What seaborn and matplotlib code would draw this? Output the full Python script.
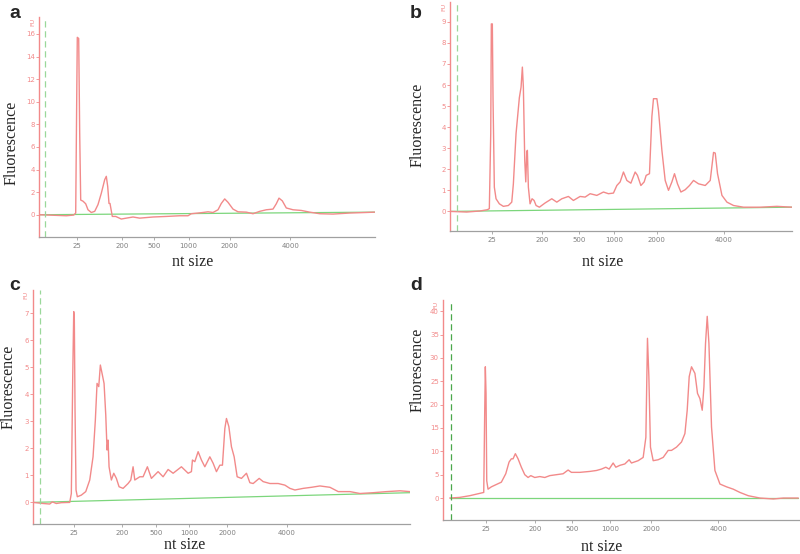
import numpy as np
import pandas as pd
import matplotlib
matplotlib.use("Agg")
import matplotlib.pyplot as plt
import seaborn as sns

sns.set_style("white")

# ---------------- data (migration position, arbitrary units; fluorescence FU) ----------------
size_labels = ["25", "200", "500", "1000", "2000", "4000"]

# panel a
pos_a = [0.7, 27.3, 34.7, 36.7, 37.7, 38.3, 39.7, 40.7, 41.7, 44, 46.7, 49, 52.3, 55.7, 59, 62.3,
         65.7, 67.3, 68.7, 70, 71, 72, 73.3, 76.7, 82.3, 87.3, 94, 100.7, 114, 127.3, 140.7, 149,
         152.3, 159, 164, 169, 174, 179, 182.3, 185.7, 189, 194, 199, 207.3, 214, 220.7, 227.3,
         234, 237.3, 240, 243.3, 247.3, 254, 262.3, 270.7, 280.7, 294, 310.7, 327.3, 335.7]
fluo_a = [0, -0.09, -0.03, 0.15, 10.1, 15.7, 15.6, 7.2, 1.3, 1.2, 0.97, 0.44, 0.2, 0.3, 0.9, 1.9,
          3.1, 3.4, 2.5, 1.0, 1.0, 0.5, -0.15, -0.15, -0.38, -0.3, -0.2, -0.3, -0.2, -0.15, -0.09, -0.09,
          0.09, 0.15, 0.2, 0.26, 0.2, 0.44, 1.0, 1.4, 1.1, 0.5, 0.26, 0.23, 0.09, 0.3, 0.44,
          0.5, 0.97, 1.47, 1.23, 0.6, 0.44, 0.38, 0.23, 0.09, 0.06, 0.15, 0.2, 0.23]
base_pos_a = [0.7, 335.7]
base_a = [0.0, 0.23]
ticks_a = [38.3, 83.3, 115, 149.7, 190.7, 251.3]
yticks_a = [0, 2, 4, 6, 8, 10, 12, 14, 16]

# panel b
pos_b = [0, 16.7, 30, 37.3, 39.3, 40.7, 41.3, 42.3, 43, 44.3, 46, 49.3, 53.3, 58.3, 61.7, 63.3,
         66, 69.3, 71, 72.3, 73.3, 74.7, 75.7, 76.7, 77.3, 78.3, 80, 82, 84, 86, 89.3, 95, 101.7,
         106.7, 111.7, 118.3, 123.3, 130, 135, 140, 146.7, 153.3, 158.3, 163.3, 166.7, 170, 173.3,
         176.7, 180.7, 185, 187.3, 190.7, 194, 196, 199.3, 201.7, 203.3, 206.7, 208.3, 211.7, 215,
         218.3, 221.7, 224.3, 227.3, 230.7, 235, 239.3, 243.3, 248.3, 255, 260, 263.3, 265, 267.3,
         271.7, 276.7, 283.3, 293.3, 310, 326.7, 341.7]
fluo_b = [0, -0.03, 0.02, 0.08, 0.13, 3.7, 8.9, 8.9, 5.3, 1.15, 0.6, 0.36, 0.24, 0.28, 0.44, 1.3,
          3.7, 5.4, 5.9, 6.85, 5.9, 2.4, 1.4, 2.8, 2.9, 1.15, 0.36, 0.6, 0.52, 0.28, 0.2, 0.4, 0.6,
          0.44, 0.6, 0.71, 0.52, 0.71, 0.68, 0.84, 0.76, 0.92, 0.84, 0.87, 1.23, 1.4, 1.87,
          1.47, 1.34, 1.87, 1.71, 1.23, 1.4, 1.71, 1.79, 4.5, 5.35, 5.35, 4.8, 2.9, 1.47,
          1.0, 1.4, 1.79, 1.31, 0.92, 1.03, 1.23, 1.47, 1.31, 1.23, 1.47, 2.8, 2.77, 1.79,
          0.76, 0.44, 0.28, 0.2, 0.2, 0.24, 0.2]
base_pos_b = [0, 341.7]
base_b = [0.0, 0.2]
ticks_b = [41.7, 92.3, 129, 164.3, 206.7, 273.3]
yticks_b = [0, 1, 2, 3, 4, 5, 6, 7, 8, 9]

# panel c
pos_c = [0, 10, 16.7, 19.3, 23.3, 28.3, 36.7, 38.3, 39.7, 40.7, 41.3, 42, 43, 44.3, 48.3, 52.7,
         56.7, 60, 62.3, 64, 65.7, 67.3, 69, 71, 72.7, 74, 75, 76, 78.3, 80.7, 83.3, 86, 90, 95,
         97.7, 100, 101.7, 106.7, 110, 114.3, 118.3, 125, 130, 135, 140, 148.3, 155, 158.3, 159.3,
         161.7, 165, 168.3, 171.7, 176.7, 180, 183.3, 186.7, 189.3, 191.7, 193.3, 195.7, 198.3,
         201, 204, 208.3, 213.3, 216.7, 220, 226, 230, 236.7, 245, 251.7, 256.7, 261.7, 270,
         278.3, 286.7, 296.7, 305, 316.7, 326.7, 340, 353.3, 366.7, 376.7]
fluo_c = [0, -0.04, -0.06, 0.02, -0.04, -0.01, 0, 0.33, 4.66, 7.07, 6.76, 3.42, 0.46, 0.21, 0.27, 0.4,
          0.83, 1.69, 3.05, 4.41, 4.29, 5.09, 4.78, 4.41, 3.24, 1.94, 2.31, 1.32, 0.83, 1.08, 0.89,
          0.58, 0.52, 0.7, 0.83, 1.32, 0.83, 0.95, 0.95, 1.32, 0.89, 1.14, 0.95, 1.22, 1.08, 1.32,
          1.08, 1.14, 1.57, 1.51, 1.88, 1.57, 1.32, 1.69, 1.45, 1.14, 1.38, 1.38, 2.74, 3.11, 2.81,
          2.06, 1.69, 0.95, 0.89, 1.08, 0.73, 0.7, 0.89, 0.77, 0.7, 0.7, 0.64, 0.52, 0.46, 0.52,
          0.56, 0.61, 0.56, 0.4, 0.4, 0.33, 0.36, 0.4, 0.43, 0.4]
base_pos_c = [0, 376.7]
base_c = [0.0, 0.36]
ticks_c = [40.7, 89, 122.7, 156, 194.3, 253.3]
yticks_c = [0, 1, 2, 3, 4, 5, 6, 7]

# panel d
pos_d = [6.7, 16.7, 26.7, 36.7, 40.7, 41.7, 42.3, 43, 43.7, 45, 48.3, 53.3, 58.3, 62.7, 66, 68.3,
         70, 72.3, 75, 78.3, 81.7, 85, 87.7, 91.7, 96.7, 101.7, 106.7, 113.3, 120, 125, 128.3,
         136.7, 146.7, 153.3, 158.3, 162.7, 166, 170, 172.7, 176.7, 181.7, 186, 188.3, 195, 200,
         202.7, 204.3, 205.7, 207.3, 210, 215, 220, 225, 228.3, 233.3, 238.3, 241.7, 244, 246,
         248.3, 251.7, 254.3, 256.7, 259, 260.7, 262.3, 264, 265.7, 268.3, 271.7, 276.7, 283.3,
         290, 296.7, 305, 316.7, 330, 340, 355]
fluo_d = [0, 0.14, 0.5, 1.0, 1.2, 18.8, 28.1, 22.4, 3.7, 1.9, 2.4, 2.9, 3.4, 5.2, 7.7, 8.4,
          8.4, 9.5, 8.4, 6.6, 5.0, 4.4, 4.8, 4.4, 4.6, 4.4, 4.8, 5.0, 5.2, 6.0, 5.5,
          5.5, 5.7, 5.9, 6.2, 6.6, 6.2, 7.5, 6.6, 7.0, 7.3, 8.2, 7.5, 8.0, 8.7,
          13.0, 34.2, 26.0, 10.9, 8.0, 8.2, 8.7, 10.2, 10.2, 10.9, 12.0, 13.8, 18.8, 26.0,
          28.1, 26.7, 22.4, 21.3, 18.8, 23.8, 33.1, 38.9, 33.1, 15.2, 5.9, 3.0, 2.4,
          1.9, 1.2, 0.5, 0.0, -0.2, 0.0, 0.0]
base_pos_d = [6.7, 355]
base_d = [0.0, 0.0]
ticks_d = [42.7, 92.3, 129.3, 166.7, 208.3, 275]
yticks_d = [0, 5, 10, 15, 20, 25, 30, 35, 40]

panels = [
    dict(letter="a", pos=pos_a, fl=fluo_a, bpos=base_pos_a, base=base_a, ticks=ticks_a, yt=yticks_a,
         xlim=(0, 336), ylim=(-1.97, 17.5), marker=5.7, mcol="#9ad89a",
         rect=[39/800, 1-237/554, 336/800, 220/554]),
    dict(letter="b", pos=pos_b, fl=fluo_b, bpos=base_pos_b, base=base_b, ticks=ticks_b, yt=yticks_b,
         xlim=(0, 341.7), ylim=(-0.93, 9.94), marker=7.3, mcol="#9ad89a",
         rect=[450/800, 1-231/554, 342/800, 229/554]),
    dict(letter="c", pos=pos_c, fl=fluo_c, bpos=base_pos_c, base=base_c, ticks=ticks_c, yt=yticks_c,
         xlim=(0, 376.7), ylim=(-0.8, 7.87), marker=7.3, mcol="#9ad89a",
         rect=[33/800, 1-524/554, 377/800, 234/554]),
    dict(letter="d", pos=pos_d, fl=fluo_d, bpos=base_pos_d, base=base_d, ticks=ticks_d, yt=yticks_d,
         xlim=(0, 356.7), ylim=(-4.7, 42.4), marker=7.7, mcol="#4aa84a",
         rect=[443/800, 1-520/554, 357/800, 220/554]),
]

RED = "#f28a8a"
GREEN = "#7cd67c"
GRAY = "#a0a0a0"

fig = plt.figure(figsize=(8, 5.54), dpi=100)

label_pos = {"a": (9, 13), "b": (410, 13), "c": (9, 286), "d": (410, 286)}
ylab_pos = {"a": (12, 143), "b": (418, 125), "c": (9, 387), "d": (418, 370)}
xlab_pos = {"a": (193, 262), "b": (603, 262), "c": (185, 545), "d": (602, 547)}

for p in panels:
    ax = fig.add_axes(p["rect"])
    df = pd.DataFrame({"pos": p["pos"], "fl": p["fl"]})
    bdf = pd.DataFrame({"pos": p["bpos"], "fl": p["base"]})
    sns.lineplot(data=bdf, x="pos", y="fl", ax=ax, color=GREEN, lw=0.9)
    sns.lineplot(data=df, x="pos", y="fl", ax=ax, color=RED, lw=1.0)
    ax.axvline(p["marker"], color=p["mcol"], lw=0.9, ls=(0, (5, 3)))
    ax.set_xlim(*p["xlim"])
    ax.set_ylim(*p["ylim"])
    ax.set_xticks(p["ticks"])
    ax.set_xticklabels(size_labels)
    ax.set_yticks(p["yt"])
    ax.set_yticklabels([str(v) for v in p["yt"]])
    ax.set_xlabel("")
    ax.set_ylabel("")
    for s in ["top", "right"]:
        ax.spines[s].set_visible(False)
    ax.spines["left"].set_color(RED)
    ax.spines["left"].set_linewidth(1.0)
    ax.spines["bottom"].set_color(GRAY)
    ax.spines["bottom"].set_linewidth(0.9)
    ax.tick_params(axis="y", colors=RED, labelsize=5, length=2, width=0.6, pad=1,
                   left=True, direction="out")
    ax.tick_params(axis="x", colors=GRAY, labelcolor="#808080", labelsize=5, length=2,
                   width=0.6, pad=2, bottom=True, direction="out")
    ax.text(-0.012, 0.995, "FU", transform=ax.transAxes, rotation=90, color=RED,
            fontsize=4.5, ha="right", va="top")
    lx, ly = label_pos[p["letter"]]
    fig.text(lx/800, 1-ly/554, p["letter"], fontsize=14, fontweight="bold",
             family="Liberation Sans", ha="left", va="center")
    yx, yy = ylab_pos[p["letter"]]
    fig.text(yx/800, 1-yy/554, "Fluorescence", rotation=90, fontsize=11.5,
             family="Liberation Serif", ha="center", va="center")
    xx, xy = xlab_pos[p["letter"]]
    fig.text(xx/800, 1-xy/554, "nt size", fontsize=11.5,
             family="Liberation Serif", ha="center", va="center")

fig.savefig("out.png", dpi=100)
